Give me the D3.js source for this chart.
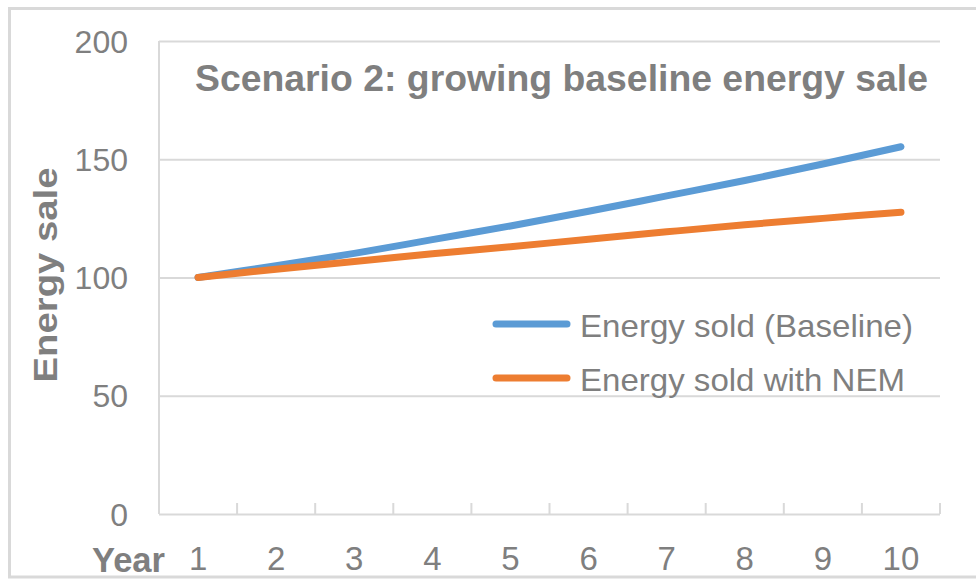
<!DOCTYPE html>
<html>
<head>
<meta charset="utf-8">
<script src="https://cdn.jsdelivr.net/npm/d3@7"></script>
<style>
  html, body { margin: 0; padding: 0; background: #fff; }
  svg { display: block; }
  text { font-family: "Liberation Sans", Arial, sans-serif; }
</style>
</head>
<body>
<svg id="chart" width="976" height="579"></svg>
<script>
// Chart data
const years = ["1", "2", "3", "4", "5", "6", "7", "8", "9", "10"];
const baselineSales = [100, 105, 110.2, 116, 121.8, 128, 134.5, 141, 148, 155.3];
const nemSales = [100, 103.5, 106.8, 110, 113, 116.2, 119.3, 122.3, 125, 127.6];
const yTicks = [0, 50, 100, 150, 200];
const seriesNames = ["Energy sold (Baseline)", "Energy sold with NEM"];
const seriesColors = ["#5b9bd5", "#ed7d31"];

const svg = d3.select("#chart");
const textColor = "#7f7f7f";
const gridColor = "#d9d9d9";

// Outer chart border
svg.append("rect")
  .attr("x", 9.5).attr("y", 8.5)
  .attr("width", 990).attr("height", 568.5)
  .attr("fill", "none")
  .attr("stroke", gridColor)
  .attr("stroke-width", 3);

const plot = { left: 159, right: 940, top: 41, bottom: 514 };

const x = d3.scaleBand().domain(years).range([plot.left, plot.right]).paddingInner(0).paddingOuter(0);
const y = d3.scaleLinear().domain([0, 200]).range([plot.bottom, plot.top]);

// Horizontal gridlines
svg.append("g")
  .attr("transform", `translate(${plot.left},0)`)
  .call(d3.axisLeft(y).tickValues(yTicks).tickSize(-(plot.right - plot.left)).tickFormat(""))
  .call(g => g.select(".domain").remove())
  .call(g => g.selectAll("line").attr("stroke", gridColor).attr("stroke-width", 2));

// Vertical axis line
svg.append("line")
  .attr("x1", plot.left).attr("x2", plot.left)
  .attr("y1", y(200)).attr("y2", y(0))
  .attr("stroke", gridColor).attr("stroke-width", 2);

// Category tick marks on the horizontal axis
const boundaries = years.map(d => x(d)).concat([plot.right]);
svg.append("g").selectAll("line")
  .data(boundaries)
  .join("line")
  .attr("x1", d => d).attr("x2", d => d)
  .attr("y1", y(0) - 11).attr("y2", y(0))
  .attr("stroke", gridColor).attr("stroke-width", 2);

// Y tick labels
svg.append("g")
  .attr("transform", `translate(${plot.left},0)`)
  .call(d3.axisLeft(y).tickValues(yTicks).tickSize(0).tickPadding(31))
  .call(g => g.select(".domain").remove())
  .call(g => g.selectAll("text")
    .attr("fill", textColor)
    .style("font-family", "'Liberation Sans', Arial, sans-serif")
    .style("font-size", "32px")
    .attr("dy", "0.35em"));

// X tick labels
svg.append("g")
  .attr("transform", `translate(0,${plot.bottom})`)
  .call(d3.axisBottom(x).tickSize(0).tickPadding(0))
  .call(g => g.select(".domain").remove())
  .call(g => g.selectAll("text")
    .attr("fill", textColor)
    .attr("y", 56)
    .attr("dy", 0)
    .style("font-family", "'Liberation Sans', Arial, sans-serif")
    .style("font-size", "33px"));

// Axis titles
svg.append("text")
  .attr("x", 165).attr("y", 572)
  .attr("text-anchor", "end")
  .attr("fill", textColor)
  .attr("font-weight", "bold")
  .attr("font-size", 35)
  .attr("textLength", 73).attr("lengthAdjust", "spacingAndGlyphs")
  .text("Year");

svg.append("text")
  .attr("transform", "translate(57,275) rotate(-90)")
  .attr("text-anchor", "middle")
  .attr("fill", textColor)
  .attr("font-weight", "bold")
  .attr("font-size", 34)
  .attr("textLength", 215).attr("lengthAdjust", "spacingAndGlyphs")
  .text("Energy sale");

// Chart title
svg.append("text")
  .attr("x", 195).attr("y", 91)
  .attr("fill", textColor)
  .attr("font-weight", "bold")
  .attr("font-size", 37)
  .attr("textLength", 733).attr("lengthAdjust", "spacingAndGlyphs")
  .text("Scenario 2: growing baseline energy sale");

// Series lines
const line = d3.line()
  .x((d, i) => x(years[i]) + x.bandwidth() / 2)
  .y(d => y(d))
  .curve(d3.curveCatmullRom.alpha(0.5));

[baselineSales, nemSales].forEach((vals, i) => {
  svg.append("path")
    .datum(vals)
    .attr("d", line)
    .attr("fill", "none")
    .attr("stroke", seriesColors[i])
    .attr("stroke-width", 7)
    .attr("stroke-linecap", "round")
    .attr("stroke-linejoin", "round");
});

// Legend
const legendY = [324, 378];
const legendWidths = [333, 325];
seriesNames.forEach((name, i) => {
  svg.append("line")
    .attr("x1", 496).attr("x2", 567)
    .attr("y1", legendY[i]).attr("y2", legendY[i])
    .attr("stroke", seriesColors[i])
    .attr("stroke-width", 7)
    .attr("stroke-linecap", "round");
  svg.append("text")
    .attr("x", 580).attr("y", legendY[i] + 13)
    .attr("fill", textColor)
    .attr("font-size", 32)
    .attr("textLength", legendWidths[i]).attr("lengthAdjust", "spacingAndGlyphs")
    .text(name);
});
</script>
</body>
</html>
